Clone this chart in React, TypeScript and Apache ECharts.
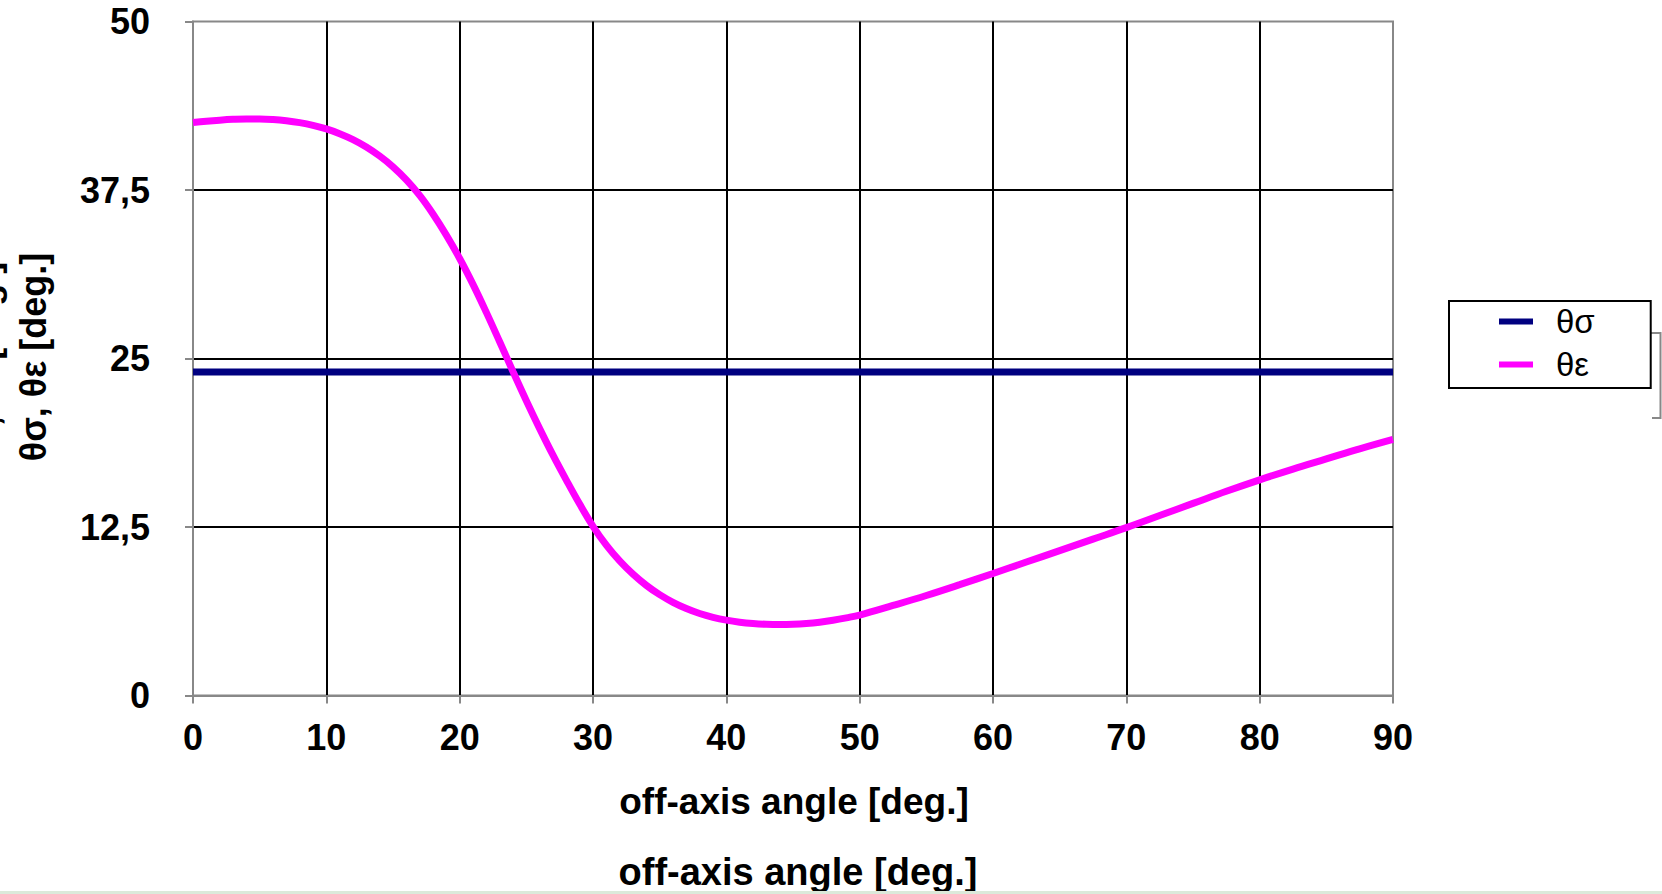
import React, { useEffect, useRef } from "react";
import * as echarts from "echarts";

const xTicks = [0, 10, 20, 30, 40, 50, 60, 70, 80, 90];
const yTicks = [0, 12.5, 25, 37.5, 50];

const sigmaAngles = [0, 90];
const thetaSigma = [24, 24];

const epsAngles = [
  0, 1, 2, 3, 4, 5, 6, 7, 8, 9, 10, 11, 12, 13, 14, 15, 16, 17, 18, 19, 20,
  21, 22, 23, 24, 25, 26, 27, 28, 29, 30, 31, 32, 33, 34, 35, 36, 37, 38, 39,
  40, 41, 42, 43, 44, 45, 46, 47, 48, 49, 50, 52.5, 55, 57.5, 60, 62.5, 65,
  67.5, 70, 72.5, 75, 77.5, 80, 82.5, 85, 87.5, 90,
];
const thetaEps = [
  42.5, 42.6, 42.68, 42.74, 42.77, 42.77, 42.73, 42.64, 42.5, 42.3, 42.03,
  41.68, 41.24, 40.69, 40.02, 39.22, 38.25, 37.1, 35.72, 34.15, 32.42, 30.5,
  28.42, 26.24, 24.03, 21.87, 19.8, 17.83, 15.98, 14.2, 12.55, 11.15, 9.98,
  9.0, 8.17, 7.48, 6.91, 6.45, 6.08, 5.8, 5.59, 5.44, 5.34, 5.28, 5.26, 5.28,
  5.34, 5.44, 5.58, 5.76, 5.97, 6.68, 7.42, 8.22, 9.05, 9.9, 10.75, 11.6,
  12.45, 13.35, 14.25, 15.15, 16.0, 16.8, 17.55, 18.3, 19.0,
];

const seriesNames = ["θσ", "θε"];
const xName = "off-axis angle [deg.]";
const yName = "θσ, θε [deg.]";

const FONT = "'Liberation Sans', Arial, Helvetica, sans-serif";

export default function App() {
  const ref = useRef<HTMLDivElement>(null);
  useEffect(() => {
    if (!ref.current) return;
    const chart = echarts.init(ref.current, null, { renderer: "svg" });
    const textStyle = (
      text: string,
      size: number,
      weight: string = "bold"
    ) => ({
      text,
      fontSize: size,
      fontWeight: weight,
      fontFamily: FONT,
      fill: "#000",
      textAlign: "center",
      textVerticalAlign: "middle",
      align: "center",
      verticalAlign: "middle",
    });
    chart.setOption({
      animation: false,
      backgroundColor: "#fff",
      grid: {
        left: 193,
        right: 269,
        top: 21.5,
        bottom: 198.5,
        show: true,
        borderColor: "#888",
        borderWidth: 2,
        backgroundColor: "transparent",
      },
      xAxis: {
        type: "value",
        min: xTicks[0],
        max: xTicks[xTicks.length - 1],
        interval: 10,
        axisLine: { show: true, lineStyle: { color: "#888", width: 2 } },
        axisTick: { show: true, length: 8, lineStyle: { color: "#888", width: 2 } },
        axisLabel: {
          margin: 24,
          fontSize: 36,
          fontWeight: "bold",
          fontFamily: FONT,
          color: "#000",
        },
        splitLine: {
          show: true,
          showMinLine: false,
          showMaxLine: false,
          lineStyle: { color: "#000", width: 2 },
        },
      },
      yAxis: {
        type: "value",
        min: yTicks[0],
        max: yTicks[yTicks.length - 1],
        interval: 12.5,
        axisLine: { show: true, lineStyle: { color: "#888", width: 2 } },
        axisTick: { show: true, length: 8, lineStyle: { color: "#888", width: 2 } },
        axisLabel: {
          margin: 43,
          fontSize: 36,
          fontWeight: "bold",
          fontFamily: FONT,
          color: "#000",
          formatter: (v: number) => String(v).replace(".", ","),
        },
        splitLine: {
          show: true,
          showMinLine: false,
          showMaxLine: false,
          lineStyle: { color: "#000", width: 2 },
        },
      },
      legend: {
        data: seriesNames,
        orient: "vertical",
        left: 1449,
        top: 301,
        padding: [4, 56, 7, 50],
        itemWidth: 34,
        itemHeight: 6,
        itemGap: 10,
        icon: "rect",
        borderColor: "#000",
        borderWidth: 2,
        backgroundColor: "#fff",
        textStyle: {
          fontSize: 33,
          color: "#000",
          fontFamily: FONT,
          padding: [0, 0, 0, 18],
        },
      },
      series: [
        {
          name: seriesNames[0],
          type: "line",
          data: sigmaAngles.map((a, i) => [a, thetaSigma[i]]),
          showSymbol: false,
          symbol: "none",
          lineStyle: { color: "#000080", width: 7 },
          itemStyle: { color: "#000080" },
          z: 3,
        },
        {
          name: seriesNames[1],
          type: "line",
          data: epsAngles.map((a, i) => [a, thetaEps[i]]),
          showSymbol: false,
          symbol: "none",
          smooth: 0.4,
          lineStyle: { color: "#ff00ff", width: 7 },
          itemStyle: { color: "#ff00ff" },
          z: 4,
        },
      ],
      graphic: [
        {
          type: "text",
          x: 794,
          y: 801,
          style: textStyle(xName, 37),
        },
        {
          type: "text",
          x: 798,
          y: 872,
          style: textStyle(xName, 38),
        },
        {
          type: "text",
          x: 33,
          y: 357,
          rotation: Math.PI / 2,
          style: textStyle(yName, 36),
        },
        {
          type: "text",
          x: -14,
          y: 366,
          rotation: Math.PI / 2,
          style: textStyle(yName, 36),
        },
        {
          type: "polyline",
          shape: {
            points: [
              [1651, 333],
              [1660.5, 333],
              [1660.5, 418],
              [1652, 418],
            ],
          },
          style: { stroke: "#888", lineWidth: 2, fill: "none" },
        },
        {
          type: "rect",
          shape: { x: 0, y: 891, width: 1662, height: 3 },
          style: { fill: "#dce9da" },
          z: 100,
        },
      ],
    });
    return () => chart.dispose();
  }, []);
  return (
    <div
      ref={ref}
      style={{ position: "fixed", left: 0, top: 0, width: 1662, height: 894 }}
    />
  );
}
